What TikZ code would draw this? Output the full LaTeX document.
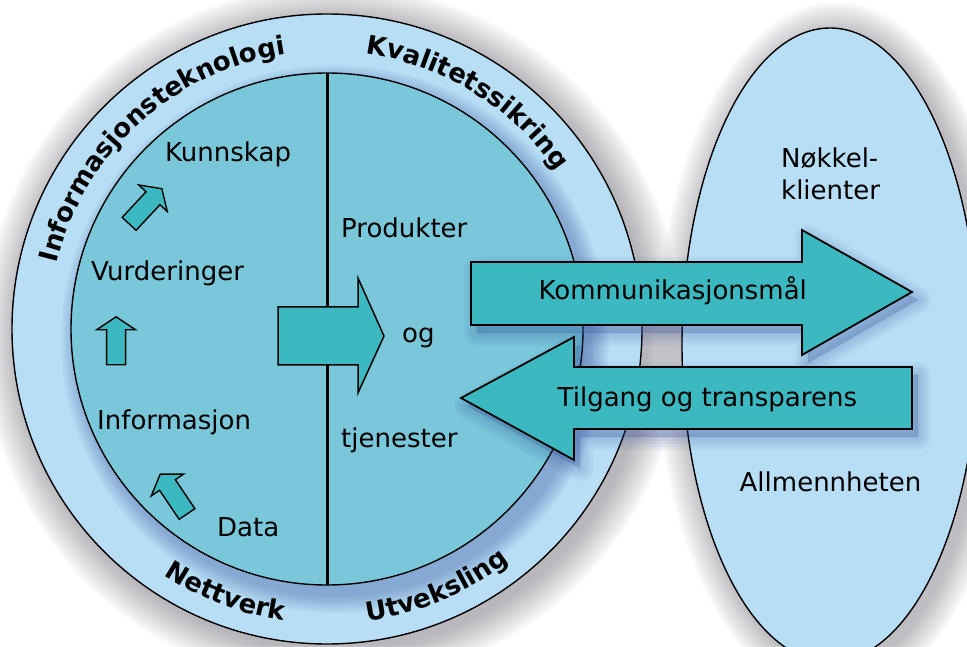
\documentclass[tikz,border=0pt]{standalone}
\usepackage{fontspec}
\setmainfont{DejaVu Sans}
\usetikzlibrary{decorations.text}
\definecolor{ringblue}{RGB}{184,222,245}
\definecolor{innerteal}{RGB}{122,199,218}
\definecolor{arrowteal}{RGB}{59,184,192}
\definecolor{shadowgrey}{RGB}{70,70,80}
\definecolor{shadowblue}{RGB}{40,70,150}
\newcommand{\smallblockarrow}[3]{%
  \begin{scope}[shift={(#1,#2)}, rotate=#3]
    \draw[smallarrow] (-24,-9.5) -- (11,-9.5) -- (11,-19.5) -- (24,0) -- (11,19.5) -- (11,9.5) -- (-24,9.5) -- cycle;
  \end{scope}}
\begin{document}
\begin{tikzpicture}[x=1pt, y=1pt,
  lbl/.style={font=\fontsize{26}{32}\selectfont, inner sep=0pt, anchor=base west},
  ringtxt/.style={decorate, decoration={text along path, text align=center, text={|\bfseries\fontsize{26}{26}\selectfont|#1}}},
  outline/.style={draw=black, line width=1.4pt},
  bigarrow/.style={draw=black, line width=1.8pt, fill=arrowteal, line join=miter},
  smallarrow/.style={draw=black, line width=1.4pt, fill=arrowteal, line join=miter},
  divider/.style={draw=black, line width=3pt},
  bshadow/.style={draw=shadowblue, fill=shadowblue, opacity=0.05, line join=round}
]
\useasboundingbox (0,0) rectangle (967,646);
\clip (0,0) rectangle (967,646);
\fill[white] (0,0) rectangle (967,646);
\coordinate (ctr) at (327,317);
\coordinate (ectr) at (830,301);
% soft grey shadows
\foreach \k in {0,...,17} \fill[shadowgrey, opacity=0.025] ([shift={(6,-6)}]ctr) circle ({350-2*\k});
\foreach \k in {0,...,15} \fill[shadowgrey, opacity=0.025] ([shift={(6,-6)}]ectr) ellipse [x radius={180-2*\k}, y radius={349-2*\k}];
% outer ring
\draw[outline, fill=ringblue] (ctr) circle (315);
% shadow of inner disc on the ring
\foreach \k in {0,...,8} \fill[shadowblue, opacity=0.045] ([shift={(8,-10)}]ctr) circle ({274-2*\k});
% inner disc
\draw[outline, fill=innerteal] (ctr) circle (256);
\draw[divider] ([yshift=-256]ctr) -- ([yshift=256]ctr);
% ellipse
\draw[outline, fill=ringblue] (ectr) ellipse [x radius=148, y radius=317];
% small arrows
\smallblockarrow{145.5}{439.7}{47}
\smallblockarrow{116.1}{305.2}{90}
\smallblockarrow{173.6}{151.9}{124}
% middle arrow
\draw[bigarrow, line width=1.5pt] (278,281) -- (358,281) -- (358,253) -- (384,310) -- (358,368) -- (358,339) -- (278,339) -- cycle;
% inner labels
\node[lbl] (kunnskap) at (165,484) {Kunnskap};
\node[lbl] (vurderinger) at (91,365) {Vurderinger};
\node[lbl] (informasjon) at (97,216) {Informasjon};
\node[lbl] (data) at (217,110) {Data};
\node[lbl] (produkter) at (341,408) {Produkter};
\node[lbl] (og) at (402,303) {og};
\node[lbl] (tjenester) at (341,198) {tjenester};
\node[lbl] (nokkel) at (781,478.5) {Nøkkel-};
\node[lbl] (klienter) at (781,446.5) {klienter};
\node[lbl] (allmenn) at (739.5,154) {Allmennheten};
% ring texts
\path[ringtxt=Informasjonsteknologi] ([shift={(177.4:278)}]ctr) arc[start angle=177.4, end angle=87.4, radius=278];
\path[ringtxt=Kvalitetssikring] ([shift={(98.3:278)}]ctr) arc[start angle=98.3, end angle=18.3, radius=278];
\path[ringtxt=Nettverk] ([shift={(219:295)}]ctr) arc[start angle=219, end angle=279, radius=295];
\path[ringtxt=Utveksling] ([shift={(263:295)}]ctr) arc[start angle=263, end angle=323, radius=295];
% shadows of big arrows
\begin{scope}[shift={(6,-8)}]
\foreach \w in {26,20,14,8,2} {
  \path[bshadow, line width=\w pt] (471,321) -- (802,321) -- (802,291) -- (912,354) -- (802,416) -- (802,384) -- (471,384) -- cycle;
  \path[bshadow, line width=\w pt] (912,217) -- (574,217) -- (574,186) -- (461,248) -- (574,309) -- (574,279) -- (912,279) -- cycle;
}
\end{scope}
% big arrows
\draw[bigarrow] (471,321) -- (802,321) -- (802,291) -- (912,354) -- (802,416) -- (802,384) -- (471,384) -- cycle;
\draw[bigarrow] (912,217) -- (574,217) -- (574,186) -- (461,248) -- (574,309) -- (574,279) -- (912,279) -- cycle;
\node[lbl] (kommunikasjon) at (538.5,346) {Kommunikasjonsmål};
\node[lbl] (tilgang) at (557.5,239) {Tilgang og transparens};
\end{tikzpicture}
\end{document}
